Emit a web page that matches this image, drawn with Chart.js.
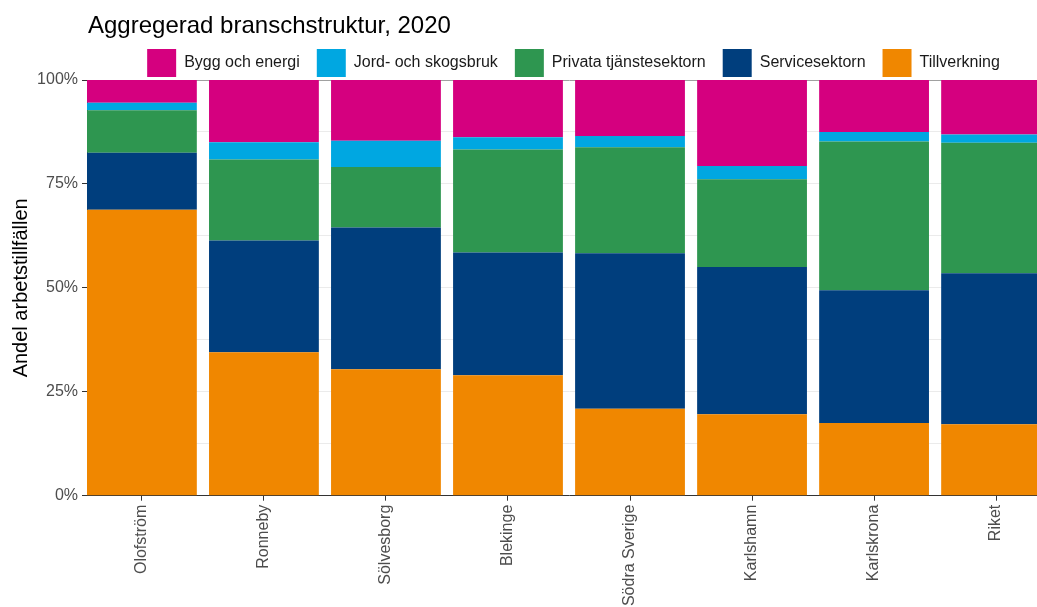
<!DOCTYPE html>
<html>
<head>
<meta charset="utf-8">
<script src="https://cdn.jsdelivr.net/npm/chart.js@4"></script>
<style>
  html, body { margin: 0; padding: 0; background: #fff; overflow: hidden; }
</style>
</head>
<body>
<canvas id="chart" width="1147" height="607"></canvas>
<script>
var titleText = 'Aggregerad branschstruktur, 2020';
var yTitle = 'Andel arbetstillfällen';

var categories = ['Olofström', 'Ronneby', 'Sölvesborg', 'Blekinge', 'Södra Sverige', 'Karlshamn', 'Karlskrona', 'Riket'];

// shares in percent (bottom to top)
var tillverkning = [68.8, 34.5, 30.4, 29.0, 20.9, 19.6, 17.5, 17.2];
var servicesektorn = [13.7, 26.9, 34.1, 29.5, 37.4, 35.4, 31.9, 36.3];
var privata = [10.2, 19.5, 14.6, 24.8, 25.5, 21.1, 35.8, 31.4];
var jordSkog = [1.8, 4.1, 6.3, 2.9, 2.7, 3.2, 2.3, 2.0];
var byggEnergi = [5.5, 15.0, 14.6, 13.8, 13.5, 20.7, 12.5, 13.1];

var labeledTicks = [0, 25, 50, 75, 100];

var FONT = '"Liberation Sans", Arial, sans-serif';

// draws the left-aligned title and nudges the legend down onto the panel
var titlePlugin = {
    id: 'plotTitle',
    afterLayout: function (chart) {
        chart.legend.top += 7;
        chart.legend.bottom += 7;
    },
    afterDraw: function (chart) {
        var ctx = chart.ctx;
        ctx.save();
        ctx.font = '24px ' + FONT;
        ctx.fillStyle = '#000000';
        ctx.textAlign = 'left';
        ctx.textBaseline = 'alphabetic';
        ctx.fillText(titleText, chart.chartArea.left + 1, 33);
        ctx.restore();
    }
};

var ctx = document.getElementById('chart').getContext('2d');
var chart = new Chart(ctx, {
    type: 'bar',
    data: {
        labels: categories,
        datasets: [
            { label: 'Tillverkning', data: tillverkning, backgroundColor: '#F08700' },
            { label: 'Servicesektorn', data: servicesektorn, backgroundColor: '#003E7D' },
            { label: 'Privata tjänstesektorn', data: privata, backgroundColor: '#2E9650' },
            { label: 'Jord- och skogsbruk', data: jordSkog, backgroundColor: '#00A7E1' },
            { label: 'Bygg och energi', data: byggEnergi, backgroundColor: '#D5007F' }
        ]
    },
    options: {
        responsive: false,
        animation: false,
        devicePixelRatio: 1,
        layout: { padding: { top: 25, left: 0, right: 0, bottom: 0 } },
        datasets: {
            bar: { categoryPercentage: 0.9, barPercentage: 1.0, borderWidth: 0 }
        },
        scales: {
            x: {
                stacked: true,
                grid: { offset: false, drawOnChartArea: false, drawTicks: true, tickLength: 5, tickColor: '#333333' },
                border: { color: '#333333', width: 1 },
                ticks: {
                    color: '#4D4D4D',
                    font: { family: FONT, size: 16 },
                    minRotation: 90,
                    maxRotation: 90,
                    padding: 4,
                    autoSkip: false
                },
                // bars flush with the axes: range runs from half a bar before the first to half a bar after the last
                afterBuildTicks: function (s) {
                    s._startValue = -0.45;
                    s._valueRange = categories.length - 0.1;
                },
                afterFit: function (s) { s.height = 111.3; }
            },
            y: {
                stacked: true,
                min: 0,
                max: 100,
                ticks: {
                    stepSize: 12.5,
                    autoSkip: false,
                    color: '#4D4D4D',
                    font: { family: FONT, size: 16 },
                    padding: 4,
                    callback: function (v) {
                        return labeledTicks.indexOf(v) >= 0 ? v + '%' : '';
                    }
                },
                grid: {
                    tickLength: 5,
                    color: function (c) { return c.tick && c.tick.value === 100 ? '#A0A0A0' : '#EBEBEB'; },
                    tickColor: function (c) {
                        return c.tick && labeledTicks.indexOf(c.tick.value) >= 0 ? '#333333' : 'rgba(0,0,0,0)';
                    }
                },
                border: { color: '#333333', width: 1 },
                title: {
                    display: true,
                    text: yTitle,
                    color: '#000000',
                    font: { family: FONT, size: 20 },
                    padding: { top: 9, bottom: 0 }
                },
                afterFit: function (s) { s.width = 87; }
            },
            yRight: {
                position: 'right',
                display: true,
                min: 0,
                max: 100,
                grid: { display: false },
                ticks: { display: false },
                border: { display: false },
                afterFit: function (s) { s.width = 96; }
            }
        },
        plugins: {
            legend: {
                position: 'top',
                align: 'center',
                reverse: true,
                labels: {
                    boxWidth: 29,
                    boxHeight: 28,
                    padding: 17,
                    color: '#1A1A1A',
                    font: { family: FONT, size: 16 }
                }
            },
            tooltip: { enabled: false }
        }
    },
    plugins: [titlePlugin]
});
</script>
</body>
</html>
